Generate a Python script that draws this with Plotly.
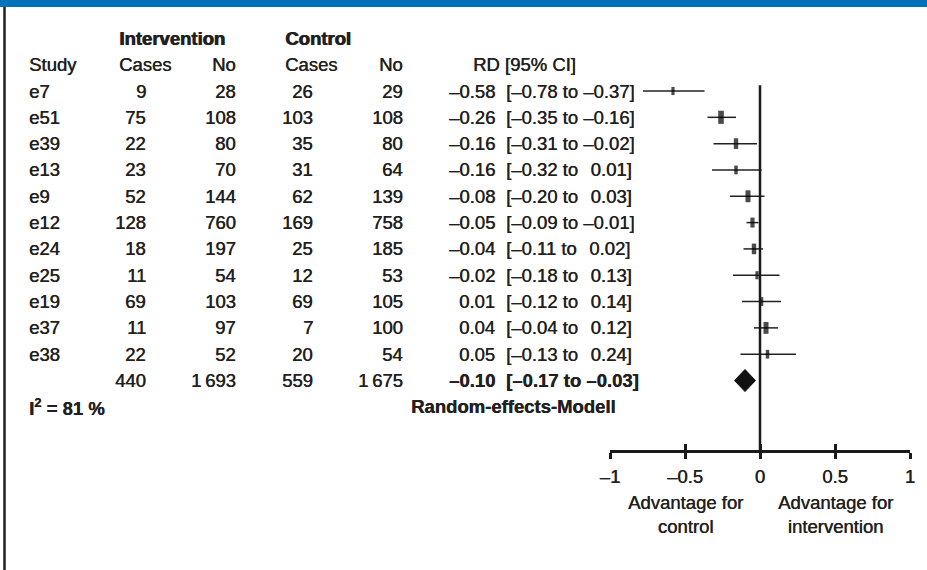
import plotly.graph_objects as go

# ---------------- data ----------------
studies = ["e7", "e51", "e39", "e13", "e9", "e12", "e24", "e25", "e19", "e37", "e38"]
int_cases = [9, 75, 22, 23, 52, 128, 18, 11, 69, 11, 22]
int_n = [28, 108, 80, 70, 144, 760, 197, 54, 103, 97, 52]
ctl_cases = [26, 103, 35, 31, 62, 169, 25, 12, 69, 7, 20]
ctl_n = [29, 108, 80, 64, 139, 758, 185, 53, 105, 100, 54]
rd = [-0.58, -0.26, -0.16, -0.16, -0.08, -0.05, -0.04, -0.02, 0.01, 0.04, 0.05]
rd_lo = [-0.78, -0.35, -0.31, -0.32, -0.20, -0.09, -0.11, -0.18, -0.12, -0.04, -0.13]
rd_hi = [-0.37, -0.16, -0.02, 0.01, 0.03, -0.01, 0.02, 0.13, 0.14, 0.12, 0.24]
weights = [4, 12, 8, 5, 10, 7, 8, 4, 5, 10, 5]  # estimated study weights (%)

total_int_cases = "440"
total_int_n = "1\u2009693"
total_ctl_cases = "559"
total_ctl_n = "1\u2009675"
pooled_rd = -0.10
pooled_lo = -0.17
pooled_hi = -0.03
i2_text = "I<sup>2</sup> = 81 %"
model_text = "Random-effects-Modell"

tick_vals = [-1, -0.5, 0, 0.5, 1]
tick_text = ["\u20131", "\u20130.5", "0", "0.5", "1"]

# ---------------- geometry ----------------
W, H = 927, 570
ROW0 = 91.0      # px centre of first study row
ROWH = 26.32     # px per row
AXIS_PX = 450.0  # px of the x axis line
y_top = -ROW0 / ROWH
y_bot = (AXIS_PX - ROW0) / ROWH

FONT = "Liberation Sans, Arial, sans-serif"
FS = 18.5
TXT = "#231f20"
THICK = "0.4px 0 0 #231f20"


def fmt(v):
    s = f"{v:.2f}"
    return s.replace("-", "\u2013")


def px(xp):
    return xp / W


fig = go.Figure()

n = len(studies)
rows = list(range(n))

# CI lines
fig.add_trace(go.Scatter(
    x=rd, y=rows, mode="markers",
    marker=dict(size=1, color="rgba(0,0,0,0)"),
    error_x=dict(type="data", symmetric=False,
                 array=[h - e for h, e in zip(rd_hi, rd)],
                 arrayminus=[e - l for e, l in zip(rd, rd_lo)],
                 color="#222222", thickness=1.5, width=0),
    showlegend=False, hoverinfo="skip"))
# point estimates (boxes sized by weight)
fig.add_trace(go.Scatter(
    x=rd, y=rows, mode="markers",
    marker=dict(symbol="line-ns", size=[4 + 0.45 * w for w in weights],
                line=dict(color="#000000", width=[2 + 0.3 * w for w in weights])),
    showlegend=False, hoverinfo="skip"))

# pooled diamond
dh = 0.42
fig.add_trace(go.Scatter(
    x=[pooled_lo, pooled_rd, pooled_hi, pooled_rd, pooled_lo],
    y=[n, n - dh, n, n + dh, n],
    mode="lines", fill="toself", fillcolor="#111", line=dict(color="#111", width=1),
    showlegend=False, hoverinfo="skip"))

# inside tick overlay
fig.add_trace(go.Scatter(x=[0], y=[0], xaxis="x2", mode="markers",
                         marker=dict(opacity=0), showlegend=False, hoverinfo="skip"))

# zero line
fig.add_shape(type="line", xref="x", yref="y", x0=0, x1=0, y0=-0.22, y1=y_bot,
              line=dict(color="#1a1a1a", width=2.5))

# top blue bar and left border
fig.add_shape(type="rect", xref="paper", yref="paper", x0=0, x1=1,
              y0=1 - 7 / H, y1=1, fillcolor="#0072b9", line=dict(width=0), layer="above")
fig.add_shape(type="line", xref="paper", yref="paper", x0=px(4.5), x1=px(4.5),
              y0=0, y1=1 - 7 / H, line=dict(color="#231f20", width=2.5))

ann = []


def T(xp, y, text, anchor="left", bold=False, size=FS, heavy=False):
    f = dict(family=FONT, size=size, color=TXT, shadow=THICK)
    if heavy:
        f["weight"] = "bold"
        f["shadow"] = "0.9px 0 0 #231f20"
    ann.append(dict(x=px(xp), xref="paper", y=y, yref="y", text=(f"<b>{text}</b>" if bold else text),
                    showarrow=False, xanchor=anchor, yanchor="middle", font=f))


# group headers
T(117, -2, "Intervention", heavy=True)
T(283, -2, "Control", heavy=True)
# column headers
T(27, -1, "Study")
T(117, -1, "Cases")
T(238, -1, "No", "right")
T(283, -1, "Cases")
T(405, -1, "No", "right")
T(524, -1, "RD [95% CI]", "center")

for i in rows:
    T(27, i, studies[i])
    T(148, i, str(int_cases[i]), "right")
    T(238, i, str(int_n[i]), "right")
    T(315, i, str(ctl_cases[i]), "right")
    T(405, i, str(ctl_n[i]), "right")
    T(497, i, fmt(rd[i]), "right")
    hi = fmt(rd_hi[i])
    sep = " to " if rd_hi[i] < 0 else " to \u2009\u2009"
    T(504, i, "[" + fmt(rd_lo[i]) + sep + hi + "]")

# totals
T(148, n, total_int_cases, "right")
T(238, n, total_int_n, "right")
T(315, n, total_ctl_cases, "right")
T(405, n, total_ctl_n, "right")
T(497, n, fmt(pooled_rd), "right", bold=True)
T(504, n, "[" + fmt(pooled_lo) + " to " + fmt(pooled_hi) + "]", bold=True)
T(27, n + 1, i2_text, bold=True)
T(513, n + 1, model_text, "center", bold=True)

# side labels under axis
for xv, lab in [(-0.5, "Advantage for<br>control"), (0.5, "Advantage for<br>intervention")]:
    ann.append(dict(x=xv, xref="x", y=(H - 514) / H, yref="paper", text=lab, showarrow=False,
                    xanchor="center", yanchor="middle",
                    font=dict(family=FONT, size=FS, color=TXT, shadow=THICK)))

axis_common = dict(range=[-1, 1], domain=[px(610), px(910)], tickvals=tick_vals,
                   tickcolor="#1a1a1a", tickwidth=2.5, ticklen=6, showgrid=False, zeroline=False,
                   fixedrange=True, automargin=False)

fig.update_layout(
    width=W, height=H, margin=dict(l=0, r=0, t=0, b=0, pad=0, autoexpand=False),
    paper_bgcolor="white", plot_bgcolor="rgba(0,0,0,0)",
    font=dict(family=FONT, size=FS, color=TXT),
    annotations=ann,
    xaxis=dict(**axis_common, ticks="outside", ticktext=tick_text, showline=True,
               linecolor="#1a1a1a", linewidth=2.5, anchor="y",
               tickfont=dict(family=FONT, size=FS, color=TXT, shadow=THICK), ticklabelstandoff=2),
    xaxis2=dict(**axis_common, ticks="inside", showticklabels=False, showline=False,
                overlaying="x", matches="x", anchor="y", side="bottom"),
    yaxis=dict(range=[y_bot, y_top], domain=[(H - AXIS_PX) / H, 1], visible=False,
               fixedrange=True, automargin=False),
)

fig.write_html("out.html")
